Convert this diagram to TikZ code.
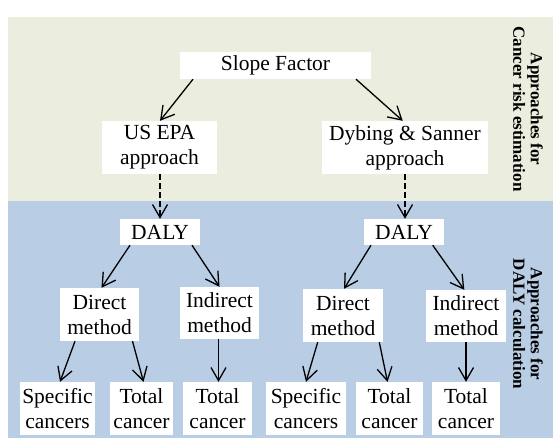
\documentclass[tikz,border=0pt]{standalone}
\usepackage{fontspec}
\setmainfont{Liberation Serif}
\usetikzlibrary{arrows.meta}
\definecolor{bandgreen}{HTML}{EBEEDE}
\definecolor{bandblue}{HTML}{B9CDE4}
\begin{document}
\begin{tikzpicture}[x=1pt,y=-1pt,
  box/.style={fill=white, inner sep=0pt, align=center,
    font=\fontsize{21.5}{25}\selectfont},
  sidelabel/.style={rotate=-90, align=center, inner sep=0pt,
    font=\fontsize{17}{17.5}\selectfont\bfseries},
  arr/.style={-{Straight Barb[length=13pt,width=15pt]}, line width=1.3pt},
  dasharr/.style={arr, dash pattern=on 5.5pt off 3.5pt}]
  \useasboundingbox (0,0) rectangle (553,440);
  % background bands
  \fill[bandgreen] (8,17) rectangle (553,201);
  \fill[bandblue] (8,201) rectangle (553,438);
  % side labels
  \node[sidelabel] (lblrisk) at (528,109) {Approaches for\\Cancer risk estimation};
  \node[sidelabel] (lbldaly) at (528,324) {Approaches for\\DALY calculation};
  % top level
  \node[box, minimum width=191pt, minimum height=27pt] (slope) at (275.5,65.5) {Slope Factor};
  \node[box, minimum width=115pt, minimum height=53pt] (epa) at (159.5,147.5) {US EPA\\approach};
  \node[box, minimum width=166pt, minimum height=53pt] (dyb) at (405,147.5) {Dybing \& Sanner\\approach};
  % DALY level
  \node[box, minimum width=80pt, minimum height=26pt] (dalyL) at (160,232) {DALY};
  \node[box, minimum width=80pt, minimum height=26pt] (dalyR) at (404,232) {DALY};
  % methods
  \node[box, minimum width=79pt, minimum height=53pt] (dirL) at (99.5,314.5) {Direct\\method};
  \node[box, minimum width=79pt, minimum height=52pt] (indL) at (219.5,313) {Indirect\\method};
  \node[box, minimum width=80pt, minimum height=53pt] (dirR) at (343,315.5) {Direct\\method};
  \node[box, minimum width=80pt, minimum height=52pt] (indR) at (466,316) {Indirect\\method};
  % outcomes
  \node[box, minimum width=75pt, minimum height=53pt] (specL) at (57.5,408.5) {Specific\\cancers};
  \node[box, minimum width=63pt, minimum height=53pt] (totL1) at (141.5,408.5) {Total\\cancer};
  \node[box, minimum width=69pt, minimum height=53pt] (totL2) at (217.5,408.5) {Total\\cancer};
  \node[box, minimum width=80pt, minimum height=53pt] (specR) at (306,408.5) {Specific\\cancers};
  \node[box, minimum width=67pt, minimum height=53pt] (totR1) at (389.5,408.5) {Total\\cancer};
  \node[box, minimum width=68pt, minimum height=53pt] (totR2) at (466,408.5) {Total\\cancer};
  % connectors
  \draw[arr] ([xshift=-82.5pt]slope.south) -- ([xshift=0.5pt]epa.north);
  \draw[arr] ([xshift=80.5pt]slope.south) -- ([xshift=-2.3pt]dyb.north);
  \draw[dasharr] ([xshift=0.5pt]epa.south) -- (dalyL.north);
  \draw[dasharr] (dyb.south) -- ([xshift=1pt]dalyR.north);
  \draw[arr] ([xshift=-30pt]dalyL.south) -- ([xshift=2pt]dirL.north);
  \draw[arr] ([xshift=32pt]dalyL.south) -- (indL.north);
  \draw[arr] ([xshift=-33pt]dalyR.south) -- ([xshift=1pt]dirR.north);
  \draw[arr] ([xshift=28.7pt]dalyR.south) -- ([xshift=-1.7pt]indR.north);
  \draw[arr] ([xshift=-24.5pt]dirL.south) -- ([xshift=2.5pt]specL.north);
  \draw[arr] ([xshift=33pt]dirL.south) -- ([xshift=2pt]totL1.north);
  \draw[arr] ([xshift=-1pt]indL.south) -- ([xshift=1pt]totL2.north);
  \draw[arr] ([xshift=-25.3pt]dirR.south) -- (specR.north);
  \draw[arr] ([xshift=36.3pt]dirR.south) -- ([xshift=-2pt]totR1.north);
  \draw[arr] (indR.south) -- (totR2.north);
\end{tikzpicture}
\end{document}
